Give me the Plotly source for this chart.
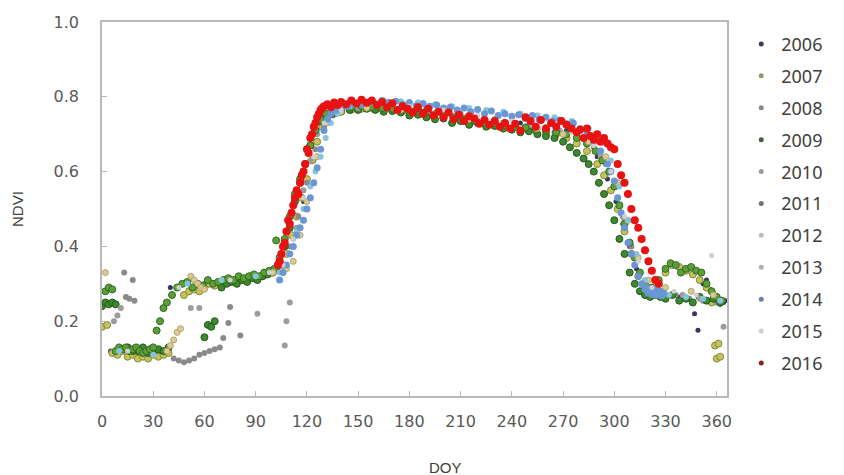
import plotly.graph_objects as go

years = ["2006", "2007", "2008", "2009", "2010", "2011", "2012", "2013", "2014", "2015", "2016"]

doy_2006 = [5, 20, 40, 60, 80, 95, 105, 112, 118, 124, 130, 140, 155, 170, 185, 200, 215, 230, 245, 260, 272, 282, 290, 296, 301, 305, 309, 313, 318, 325, 332, 338, 343, 347, 349, 352, 354, 356, 358, 360, 362, 364, 365]
ndvi_2006 = [0.12, 0.11, 0.29, 0.30, 0.31, 0.325, 0.35, 0.42, 0.52, 0.63, 0.72, 0.765, 0.775, 0.778, 0.77, 0.76, 0.75, 0.74, 0.73, 0.72, 0.71, 0.69, 0.64, 0.58, 0.52, 0.46, 0.40, 0.34, 0.29, 0.275, 0.27, 0.265, 0.26, 0.22, 0.176, 0.30, 0.31, 0.285, 0.275, 0.25, 0.245, 0.25, 0.255]

doy_2007 = [0, 3, 6, 9, 12, 15, 18, 21, 24, 27, 30, 33, 36, 39, 48, 51, 54, 57, 60, 63, 66, 69, 72, 75, 78, 81, 84, 87, 90, 93, 96, 99, 102, 105, 108, 111, 114, 117, 120, 123, 126, 129, 132, 136, 140, 146, 152, 158, 164, 170, 176, 182, 188, 194, 200, 206, 212, 218, 224, 230, 236, 242, 248, 254, 260, 266, 272, 278, 284, 290, 294, 298, 302, 306, 310, 314, 318, 322, 326, 330, 334, 338, 342, 346, 350, 354, 357, 359, 360, 361, 362]
ndvi_2007 = [0.185, 0.19, 0.115, 0.11, 0.12, 0.105, 0.11, 0.10, 0.105, 0.10, 0.11, 0.105, 0.11, 0.115, 0.27, 0.28, 0.285, 0.28, 0.29, 0.30, 0.295, 0.30, 0.31, 0.305, 0.31, 0.315, 0.31, 0.32, 0.315, 0.32, 0.325, 0.33, 0.34, 0.35, 0.38, 0.43, 0.48, 0.53, 0.58, 0.63, 0.68, 0.72, 0.745, 0.755, 0.762, 0.765, 0.768, 0.77, 0.768, 0.765, 0.762, 0.758, 0.755, 0.75, 0.748, 0.742, 0.74, 0.735, 0.73, 0.728, 0.722, 0.72, 0.715, 0.71, 0.705, 0.70, 0.69, 0.675, 0.655, 0.62, 0.59, 0.55, 0.50, 0.44, 0.38, 0.32, 0.29, 0.285, 0.30, 0.33, 0.35, 0.345, 0.335, 0.325, 0.31, 0.29, 0.25, 0.135, 0.10, 0.14, 0.105]

doy_2008 = [13, 14, 16, 18, 19, 42, 45, 48, 51, 54, 57, 60, 63, 66, 69, 71, 74, 75, 81, 100, 106, 110, 115, 120, 125, 130, 135, 145, 160, 175, 190, 205, 220, 235, 250, 265, 278, 288, 295, 300, 305, 310, 315, 320, 328, 336, 344, 352, 360]
ndvi_2008 = [0.33, 0.265, 0.26, 0.31, 0.255, 0.10, 0.095, 0.09, 0.095, 0.10, 0.11, 0.115, 0.12, 0.125, 0.13, 0.155, 0.195, 0.238, 0.162, 0.33, 0.35, 0.40, 0.48, 0.57, 0.66, 0.72, 0.75, 0.765, 0.77, 0.765, 0.76, 0.745, 0.735, 0.725, 0.715, 0.705, 0.69, 0.665, 0.62, 0.56, 0.48, 0.40, 0.33, 0.29, 0.275, 0.27, 0.26, 0.255, 0.25]

doy_2009 = [0, 2, 4, 6, 8, 12, 15, 18, 21, 24, 27, 30, 33, 36, 39, 60, 62, 64, 66, 70, 73, 76, 79, 82, 85, 88, 91, 94, 97, 100, 102, 104, 107, 110, 113, 116, 119, 122, 125, 128, 131, 135, 140, 145, 150, 155, 160, 165, 170, 175, 180, 185, 190, 195, 200, 205, 210, 215, 220, 225, 230, 235, 240, 245, 250, 255, 260, 265, 270, 274, 278, 282, 285, 288, 291, 294, 297, 300, 303, 306, 309, 312, 315, 318, 321, 324, 327, 330, 334, 338, 342, 346, 350, 354, 358, 362]
ndvi_2009 = [0.24, 0.25, 0.245, 0.25, 0.245, 0.125, 0.13, 0.12, 0.125, 0.13, 0.115, 0.12, 0.125, 0.12, 0.13, 0.157, 0.19, 0.185, 0.20, 0.29, 0.30, 0.305, 0.30, 0.31, 0.305, 0.315, 0.31, 0.32, 0.325, 0.33, 0.34, 0.36, 0.40, 0.45, 0.52, 0.57, 0.62, 0.67, 0.71, 0.735, 0.75, 0.755, 0.76, 0.765, 0.765, 0.768, 0.765, 0.76, 0.762, 0.758, 0.75, 0.752, 0.745, 0.74, 0.742, 0.73, 0.735, 0.725, 0.73, 0.72, 0.722, 0.715, 0.712, 0.705, 0.708, 0.70, 0.695, 0.69, 0.68, 0.665, 0.65, 0.635, 0.62, 0.60, 0.57, 0.54, 0.51, 0.47, 0.42, 0.38, 0.33, 0.30, 0.28, 0.27, 0.265, 0.27, 0.265, 0.26, 0.27, 0.255, 0.26, 0.25, 0.265, 0.255, 0.26, 0.25]

doy_2010 = [7, 9, 11, 52, 57, 91, 107, 108, 110, 114, 118, 122, 126, 130, 136, 150, 170, 190, 210, 230, 250, 268, 282, 292, 300, 306, 312, 318, 326, 340, 350, 364]
ndvi_2010 = [0.20, 0.215, 0.235, 0.235, 0.235, 0.22, 0.135, 0.20, 0.25, 0.45, 0.55, 0.63, 0.70, 0.74, 0.76, 0.77, 0.775, 0.77, 0.755, 0.74, 0.725, 0.71, 0.69, 0.64, 0.56, 0.47, 0.37, 0.30, 0.28, 0.27, 0.26, 0.185]

doy_2011 = [2, 4, 6, 8, 10, 12, 14, 16, 18, 20, 22, 24, 26, 28, 30, 32, 34, 36, 38, 41, 44, 47, 50, 53, 56, 59, 62, 65, 68, 71, 74, 77, 80, 83, 86, 89, 92, 95, 98, 101, 102, 104, 107, 110, 113, 116, 119, 122, 125, 128, 131, 135, 140, 146, 152, 158, 164, 170, 176, 182, 188, 194, 200, 206, 212, 218, 224, 230, 236, 242, 248, 254, 260, 266, 272, 278, 284, 289, 293, 297, 300, 303, 306, 309, 312, 315, 318, 322, 326, 330, 333, 336, 339, 342, 345, 348, 351, 354, 357, 360, 363]
ndvi_2011 = [0.28, 0.29, 0.285, 0.12, 0.13, 0.125, 0.13, 0.12, 0.125, 0.13, 0.12, 0.115, 0.12, 0.125, 0.13, 0.175, 0.20, 0.235, 0.25, 0.27, 0.29, 0.30, 0.305, 0.29, 0.30, 0.295, 0.31, 0.30, 0.305, 0.31, 0.315, 0.31, 0.32, 0.315, 0.32, 0.325, 0.32, 0.33, 0.335, 0.34, 0.416, 0.37, 0.42, 0.48, 0.54, 0.58, 0.62, 0.67, 0.71, 0.74, 0.755, 0.765, 0.77, 0.772, 0.775, 0.773, 0.77, 0.768, 0.765, 0.76, 0.758, 0.752, 0.75, 0.745, 0.74, 0.738, 0.732, 0.73, 0.725, 0.72, 0.718, 0.712, 0.71, 0.705, 0.70, 0.69, 0.675, 0.655, 0.63, 0.60, 0.56, 0.51, 0.46, 0.41, 0.37, 0.33, 0.30, 0.29, 0.31, 0.34, 0.355, 0.35, 0.33, 0.34, 0.345, 0.335, 0.33, 0.30, 0.28, 0.265, 0.255]

doy_2012 = [2, 38, 40, 42, 44, 46, 52, 54, 56, 58, 60, 100, 108, 112, 116, 120, 126, 132, 140, 155, 175, 195, 215, 235, 255, 270, 285, 295, 302, 308, 314, 320, 330, 345, 358]
ndvi_2012 = [0.33, 0.12, 0.135, 0.15, 0.17, 0.18, 0.32, 0.31, 0.30, 0.29, 0.285, 0.33, 0.34, 0.36, 0.43, 0.52, 0.64, 0.73, 0.76, 0.77, 0.765, 0.755, 0.74, 0.73, 0.715, 0.70, 0.68, 0.64, 0.57, 0.47, 0.37, 0.31, 0.29, 0.28, 0.27]

doy_2013 = [10, 30, 50, 70, 90, 104, 110, 114, 118, 122, 125, 128, 131, 134, 138, 145, 155, 165, 175, 185, 195, 205, 215, 225, 235, 245, 255, 265, 275, 285, 292, 298, 303, 308, 313, 318, 324, 332, 342, 352, 362]
ndvi_2013 = [0.12, 0.11, 0.30, 0.31, 0.32, 0.33, 0.38, 0.44, 0.50, 0.56, 0.60, 0.64, 0.69, 0.73, 0.755, 0.775, 0.785, 0.79, 0.788, 0.785, 0.78, 0.775, 0.77, 0.765, 0.76, 0.755, 0.75, 0.745, 0.735, 0.715, 0.685, 0.63, 0.56, 0.47, 0.38, 0.31, 0.28, 0.27, 0.265, 0.26, 0.255]

doy_2014 = [104, 106, 108, 110, 112, 114, 116, 118, 120, 122, 124, 126, 128, 130, 132, 134, 137, 140, 144, 148, 152, 156, 160, 164, 168, 172, 176, 180, 184, 188, 192, 196, 200, 204, 208, 212, 216, 220, 224, 228, 232, 236, 240, 244, 248, 252, 256, 260, 264, 268, 272, 276, 280, 284, 288, 292, 296, 298, 300, 302, 304, 306, 308, 310, 312, 314, 316, 318, 320, 322, 324, 326, 328, 319, 321, 323, 325, 327, 329]
ndvi_2014 = [0.31, 0.33, 0.35, 0.38, 0.40, 0.43, 0.45, 0.47, 0.50, 0.53, 0.57, 0.61, 0.66, 0.71, 0.74, 0.755, 0.765, 0.77, 0.775, 0.78, 0.78, 0.785, 0.782, 0.79, 0.785, 0.788, 0.78, 0.785, 0.776, 0.782, 0.775, 0.778, 0.77, 0.773, 0.765, 0.77, 0.76, 0.766, 0.755, 0.762, 0.75, 0.755, 0.748, 0.752, 0.742, 0.75, 0.74, 0.745, 0.735, 0.738, 0.728, 0.73, 0.715, 0.70, 0.68, 0.655, 0.62, 0.60, 0.575, 0.53, 0.49, 0.45, 0.41, 0.38, 0.35, 0.32, 0.30, 0.285, 0.275, 0.272, 0.27, 0.27, 0.268, 0.29, 0.285, 0.28, 0.29, 0.28, 0.275]

doy_2015 = [15, 45, 75, 98, 106, 112, 118, 124, 130, 140, 160, 180, 200, 220, 240, 260, 275, 288, 298, 306, 314, 322, 335, 348, 357]
ndvi_2015 = [0.12, 0.29, 0.31, 0.33, 0.35, 0.42, 0.53, 0.64, 0.73, 0.765, 0.78, 0.775, 0.765, 0.75, 0.735, 0.72, 0.705, 0.67, 0.60, 0.48, 0.36, 0.29, 0.28, 0.27, 0.376]

doy_2016 = [103, 104, 105, 106, 107, 108, 109, 110, 111, 112, 113, 114, 115, 116, 117, 118, 119, 120, 121, 122, 123, 124, 125, 126, 127, 128, 129, 130, 132, 134, 136, 138, 140, 143, 146, 149, 152, 155, 158, 161, 164, 167, 170, 173, 176, 179, 182, 185, 188, 191, 194, 197, 200, 203, 206, 209, 212, 215, 218, 221, 224, 227, 230, 233, 236, 239, 242, 245, 248, 251, 254, 257, 260, 263, 266, 269, 272, 275, 278, 280, 282, 284, 286, 288, 290, 292, 294, 296, 298, 300, 302, 304, 306, 308, 310, 312, 314, 316, 318, 320, 322, 324, 326]
ndvi_2016 = [0.35, 0.36, 0.38, 0.40, 0.41, 0.44, 0.47, 0.46, 0.49, 0.51, 0.53, 0.55, 0.54, 0.57, 0.59, 0.60, 0.62, 0.66, 0.65, 0.69, 0.70, 0.72, 0.73, 0.745, 0.755, 0.765, 0.77, 0.775, 0.78, 0.772, 0.785, 0.778, 0.786, 0.78, 0.79, 0.782, 0.792, 0.784, 0.79, 0.778, 0.786, 0.772, 0.783, 0.765, 0.775, 0.768, 0.758, 0.772, 0.755, 0.768, 0.75, 0.76, 0.745, 0.758, 0.74, 0.752, 0.735, 0.748, 0.742, 0.728, 0.738, 0.725, 0.735, 0.72, 0.73, 0.715, 0.728, 0.71, 0.745, 0.735, 0.72, 0.738, 0.715, 0.73, 0.72, 0.735, 0.725, 0.715, 0.705, 0.712, 0.69, 0.715, 0.695, 0.685, 0.70, 0.68, 0.69, 0.675, 0.665, 0.66, 0.62, 0.59, 0.57, 0.54, 0.50, 0.47, 0.45, 0.42, 0.39, 0.36, 0.335, 0.31, 0.30]

x_ticks = [0, 30, 60, 90, 120, 150, 180, 210, 240, 270, 300, 330, 360]
y_ticks = [0.0, 0.2, 0.4, 0.6, 0.8, 1.0]

series = {
    "2006": (doy_2006, ndvi_2006),
    "2007": (doy_2007, ndvi_2007),
    "2008": (doy_2008, ndvi_2008),
    "2009": (doy_2009, ndvi_2009),
    "2010": (doy_2010, ndvi_2010),
    "2011": (doy_2011, ndvi_2011),
    "2012": (doy_2012, ndvi_2012),
    "2013": (doy_2013, ndvi_2013),
    "2014": (doy_2014, ndvi_2014),
    "2015": (doy_2015, ndvi_2015),
    "2016": (doy_2016, ndvi_2016),
}

styles = {
    "2006": dict(color="#34345e", size=5, line=dict(width=0)),
    "2007": dict(color="#c8c25a", size=7, line=dict(color="#7f8a40", width=1)),
    "2008": dict(color="#8a8a8a", size=6, line=dict(width=0)),
    "2009": dict(color="#3d8a2c", size=7, line=dict(color="#26561e", width=1)),
    "2010": dict(color="#9c9c9c", size=6, line=dict(width=0)),
    "2011": dict(color="#5d9f36", size=7, line=dict(color="#2f6a24", width=1)),
    "2012": dict(color="#dccb8e", size=6, line=dict(color="#b3a374", width=1)),
    "2013": dict(color="#86c3dc", size=6, line=dict(width=0)),
    "2014": dict(color="#6a97d4", size=7, line=dict(width=0)),
    "2015": dict(color="#cfcfcf", size=5, line=dict(width=0)),
    "2016": dict(color="#e81212", size=8, line=dict(width=0)),
}

legend_colors = {
    "2006": "#3a3a5a", "2007": "#8e9a70", "2008": "#8a8a8a", "2009": "#4a5a48",
    "2010": "#9a9a9a", "2011": "#6e766c", "2012": "#bdbdbd", "2013": "#b0b0b0",
    "2014": "#6f7fa8", "2015": "#d0d0d0", "2016": "#8a2020",
}

fig = go.Figure()
for yr in years:
    xs, ys = series[yr]
    fig.add_trace(go.Scatter(
        x=xs, y=ys, mode="markers", name=yr, legendgroup=yr, showlegend=False,
        marker=styles[yr],
    ))
for yr in years:
    fig.add_trace(go.Scatter(
        x=[None], y=[None], mode="markers", name=yr, legendgroup=yr, showlegend=True,
        marker=dict(color=legend_colors[yr], size=5),
    ))

axis_col = "#b8b8b8"
tick_font = dict(family="DejaVu Sans", size=16, color="#595959")

fig.update_layout(
    width=844, height=475,
    margin=dict(l=102, r=117, t=22, b=79),
    paper_bgcolor="white", plot_bgcolor="white",
    showlegend=True,
    legend=dict(
        x=1.162, xanchor="right", y=0.99, yanchor="top",
        font=dict(family="Noto Sans", size=18, color="#404040"),
        tracegroupgap=5.5, bgcolor="rgba(0,0,0,0)", itemsizing="trace",
        maxheight=1.0,
    ),
    xaxis=dict(
        range=[0, 366], tickvals=x_ticks, ticktext=[str(v) for v in x_ticks],
        showgrid=False, zeroline=False, showline=True, linecolor=axis_col, linewidth=1.5,
        mirror=True, ticks="inside", ticklen=5, tickcolor=axis_col, tickwidth=1,
        tickfont=tick_font, ticklabelstandoff=10,
    ),
    yaxis=dict(
        range=[0, 1], tickvals=y_ticks, ticktext=["%.1f" % v for v in y_ticks],
        showgrid=False, zeroline=False, showline=True, linecolor=axis_col, linewidth=1.5,
        mirror=True, ticks="inside", ticklen=5, tickcolor=axis_col, tickwidth=1,
        tickfont=tick_font, ticklabelstandoff=18,
    ),
    annotations=[
        dict(text="DOY", xref="paper", yref="paper", x=0.549, y=-0.19,
             showarrow=False, font=dict(family="Liberation Sans", size=15, color="#404040"),
             xanchor="center", yanchor="middle"),
        dict(text="NDVI", xref="paper", yref="paper", x=-0.136, y=0.5, textangle=-90,
             showarrow=False, font=dict(family="Liberation Sans", size=15, color="#404040"),
             xanchor="center", yanchor="middle"),
    ],
)

fig.write_html("out.html")
